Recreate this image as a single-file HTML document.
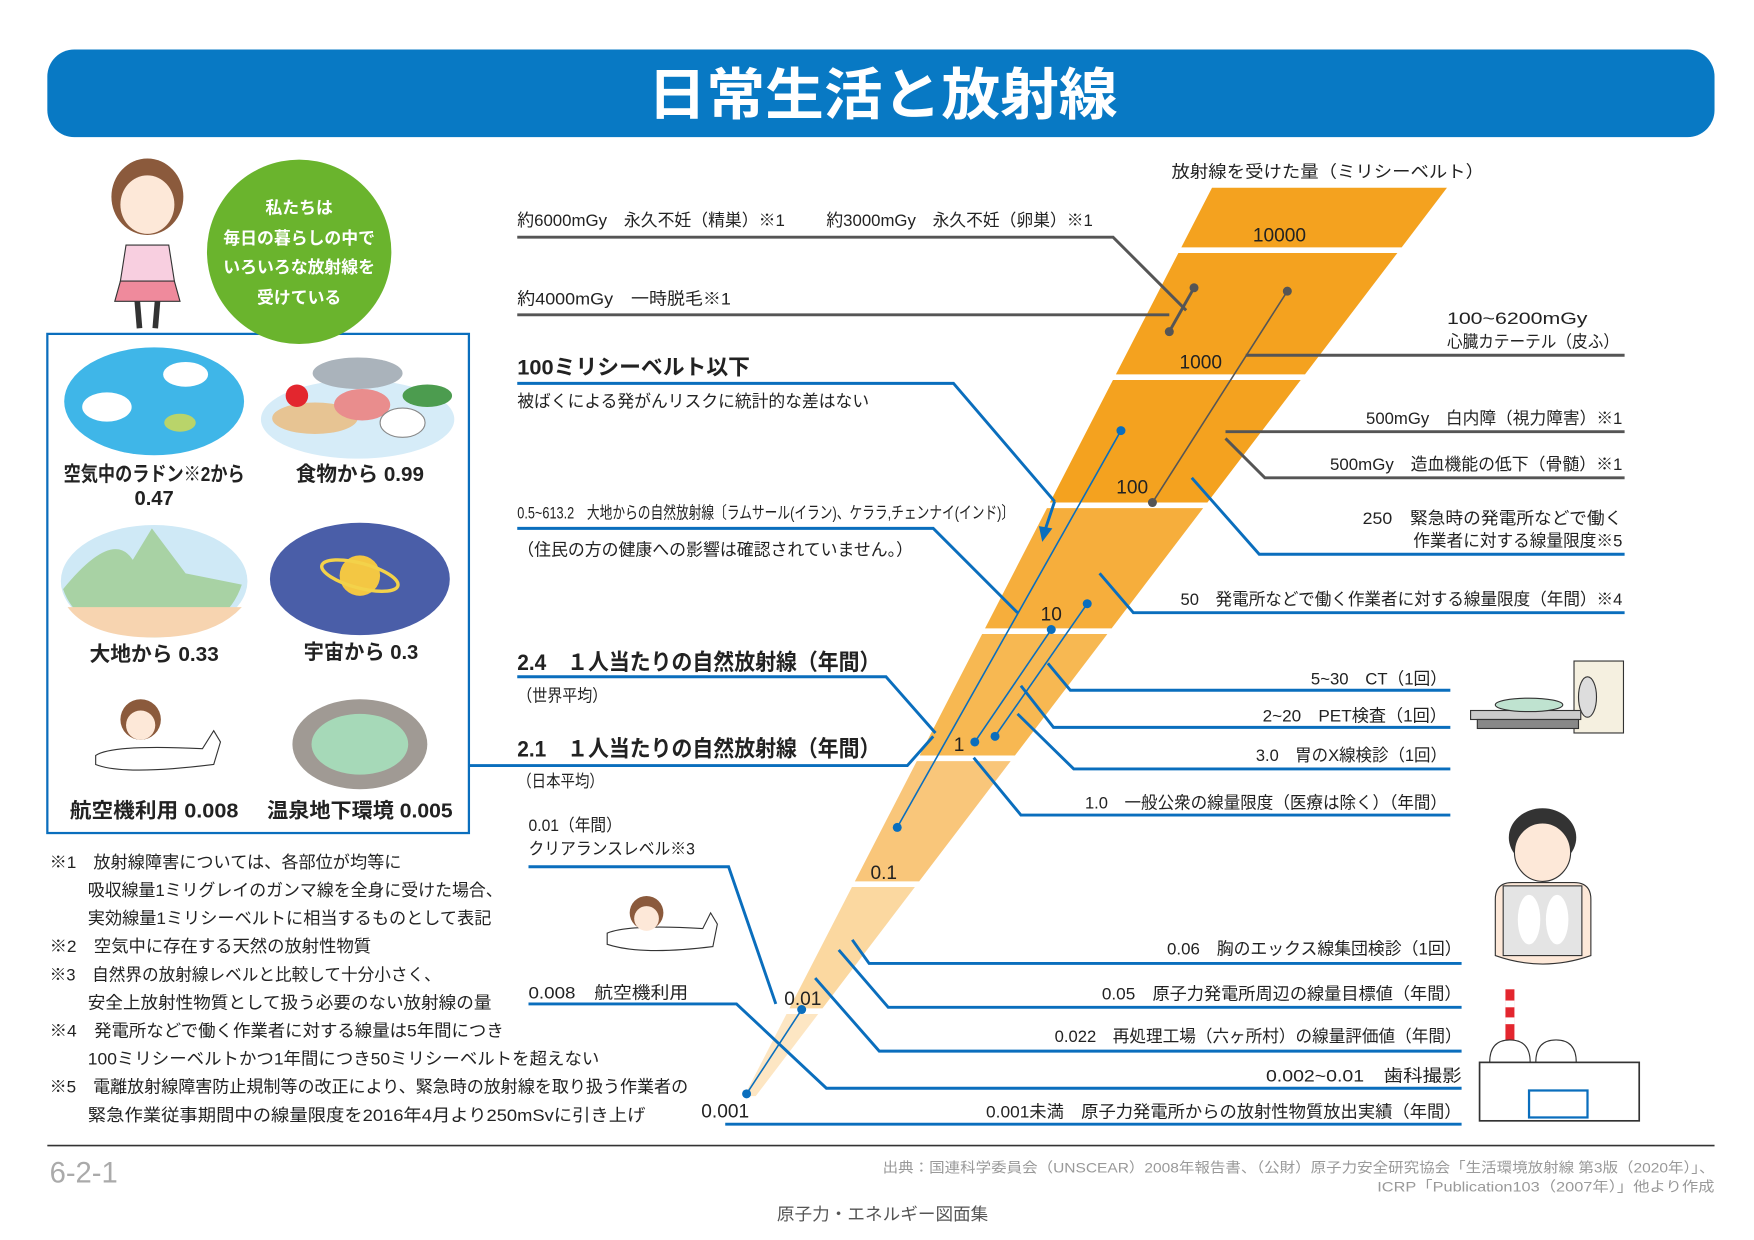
<!DOCTYPE html>
<html><head><meta charset="utf-8"><style>
html,body{margin:0;padding:0;background:#fff;}
svg{display:block;font-family:"Liberation Sans","Noto Sans CJK JP",sans-serif;}
.t{font-size:15px;fill:#222;}
.b{font-weight:bold;}
.g{stroke:#555;stroke-width:2.6;fill:none;}
.bl{stroke:#0a6ebd;stroke-width:2.6;fill:none;}
.thb{stroke:#0a6ebd;stroke-width:1.4;fill:none;}
.thg{stroke:#555;stroke-width:1.4;fill:none;}
</style></head><body>
<svg width="1754" height="1240" viewBox="0 0 1560 1103" xmlns="http://www.w3.org/2000/svg">
<!-- title -->
<rect x="42" y="44" width="1483" height="78" rx="24" fill="#0879c4"/>
<text x="785" y="102" text-anchor="middle" font-size="50" font-weight="bold" fill="#fff" textLength="418" lengthAdjust="spacingAndGlyphs">日常生活と放射線</text>

<!-- funnel -->
<polygon points="1078,167 1287,167 1246.7,220 1050.7,220" fill="#f4a21f"/>
<polygon points="1048.1,225 1242.9,225 1160.7,333 992.5,333" fill="#f4a21f"/>
<polygon points="989.9,338 1156.9,338 1073.9,447 933.8,447" fill="#f4a21f"/>
<polygon points="931.2,452 1070.1,452 988.7,559 876.1,559" fill="#f6ae3c"/>
<polygon points="873.5,564 984.9,564 902.7,672 817.9,672" fill="#f7b852"/>
<polygon points="815.4,677 898.9,677 817.5,784 760.3,784" fill="#f9c67a"/>
<polygon points="757.7,789 813.7,789 731.5,897 702.1,897" fill="#fbd8a0"/>
<polygon points="699.5,902 727.7,902 672.1,975 661.9,975" fill="#fde6c3"/>
<g font-size="17" fill="#222" text-anchor="middle">
<text x="1138" y="215">10000</text><text x="1068" y="328">1000</text><text x="1007" y="439">100</text>
<text x="935" y="552">10</text><text x="853" y="668">1</text><text x="786" y="782">0.1</text>
<text x="714" y="894">0.01</text><text x="645" y="994">0.001</text></g>

<text x="1042" y="158" class="t" font-size="17" textLength="278" lengthAdjust="spacingAndGlyphs">放射線を受けた量（ミリシーベルト）</text>

<!-- gray connectors -->
<polyline class="g" points="460,211 990,211 1055,276"/>
<line class="g" x1="1062" y1="256" x2="1040" y2="295"/>
<circle cx="1062" cy="256" r="4" fill="#555"/><circle cx="1040" cy="295" r="4" fill="#555"/>
<line class="g" x1="460" y1="280" x2="1040" y2="280"/>
<line class="g" x1="1108" y1="316" x2="1445" y2="316"/>
<line class="g" x1="1090" y1="384" x2="1445" y2="384"/>
<polyline class="g" points="1090,390 1125,425 1445,425"/>
<line class="thg" x1="1145" y1="259" x2="1025" y2="447"/>
<circle cx="1145" cy="259" r="4" fill="#555"/><circle cx="1025" cy="447" r="4" fill="#555"/>

<!-- blue connectors -->
<polyline class="bl" points="460,341 848,341 938,446"/>
<line class="bl" x1="938" y1="446" x2="930" y2="470"/>
<polygon points="924,468 936,470 927,482" fill="#0a6ebd"/>
<polyline class="bl" points="460,470 830,470 905,545"/>
<line class="thb" x1="997" y1="383" x2="798" y2="736"/>
<circle cx="997" cy="383" r="4" fill="#0a6ebd"/><circle cx="798" cy="736" r="4" fill="#0a6ebd"/>
<polyline class="bl" points="1060,425 1120,493 1445,493"/>
<polyline class="bl" points="978,510 1008,545 1445,545"/>
<line class="thb" x1="967" y1="537" x2="885" y2="655"/>
<line class="thb" x1="935" y1="560" x2="867" y2="660"/>
<circle cx="967" cy="537" r="4" fill="#0a6ebd"/><circle cx="885" cy="655" r="4" fill="#0a6ebd"/>
<circle cx="935" cy="560" r="4" fill="#0a6ebd"/><circle cx="867" cy="660" r="4" fill="#0a6ebd"/>
<polyline class="bl" points="460,602 788,602 832,652"/>
<polyline class="bl" points="417,681 807,681 830,655"/>
<polyline class="bl" points="932,590 952,614 1290,614"/>
<polyline class="bl" points="908,610 937,647 1290,647"/>
<polyline class="bl" points="905,635 955,684 1290,684"/>
<polyline class="bl" points="866,674 908,725 1290,725"/>
<polyline class="bl" points="758,836 773,857 1300,857"/>
<polyline class="bl" points="746,845 790,896 1300,896"/>
<polyline class="bl" points="725,870 782,935 1300,935"/>
<polyline class="bl" points="470,771 648,771 690,893"/>
<polyline class="bl" points="470,893 655,893 735,968 1300,968"/>
<line class="bl" x1="645" y1="1000" x2="1300" y2="1000"/>
<line class="thb" x1="713" y1="898" x2="664" y2="973"/>
<circle cx="713" cy="898" r="4" fill="#0a6ebd"/><circle cx="664" cy="973" r="4" fill="#0a6ebd"/>

<!-- labels -->
<g class="t">
<text x="460" y="201" textLength="238" lengthAdjust="spacingAndGlyphs">約6000mGy　永久不妊（精巣）※1</text>
<text x="735" y="201" textLength="237" lengthAdjust="spacingAndGlyphs">約3000mGy　永久不妊（卵巣）※1</text>
<text x="460" y="271" textLength="190" lengthAdjust="spacingAndGlyphs">約4000mGy　一時脱毛※1</text>
<text x="1287" y="288" textLength="125" lengthAdjust="spacingAndGlyphs">100~6200mGy</text>
<text x="1287" y="309" textLength="153" lengthAdjust="spacingAndGlyphs">心臓カテーテル（皮ふ）</text>
<text x="460" y="333" font-size="19" class="b" textLength="207" lengthAdjust="spacingAndGlyphs">100ミリシーベルト以下</text>
<text x="460" y="362" textLength="313" lengthAdjust="spacingAndGlyphs">被ばくによる発がんリスクに統計的な差はない</text>
<text x="1215" y="377" textLength="228" lengthAdjust="spacingAndGlyphs">500mGy　白内障（視力障害）※1</text>
<text x="1183" y="418" textLength="260" lengthAdjust="spacingAndGlyphs">500mGy　造血機能の低下（骨髄）※1</text>
<text x="460" y="461" textLength="442" lengthAdjust="spacingAndGlyphs">0.5~613.2　大地からの自然放射線〔ラムサール(イラン)、ケララ,チェンナイ(インド)〕</text>
<text x="460" y="494" textLength="352" lengthAdjust="spacingAndGlyphs">（住民の方の健康への影響は確認されていません。）</text>
<text x="1212" y="466" textLength="231" lengthAdjust="spacingAndGlyphs">250　緊急時の発電所などで働く</text>
<text x="1257" y="486" textLength="186" lengthAdjust="spacingAndGlyphs">作業者に対する線量限度※5</text>
<text x="1050" y="538" textLength="393" lengthAdjust="spacingAndGlyphs">50　発電所などで働く作業者に対する線量限度（年間）※4</text>
<text x="460" y="596" font-size="20" class="b" textLength="323" lengthAdjust="spacingAndGlyphs">2.4　１人当たりの自然放射線（年間）</text>
<text x="460" y="624" textLength="80" lengthAdjust="spacingAndGlyphs">（世界平均）</text>
<text x="1166" y="609" textLength="121" lengthAdjust="spacingAndGlyphs">5~30　CT（1回）</text>
<text x="1123" y="642" textLength="164" lengthAdjust="spacingAndGlyphs">2~20　PET検査（1回）</text>
<text x="1117" y="677" textLength="170" lengthAdjust="spacingAndGlyphs">3.0　胃のX線検診（1回）</text>
<text x="460" y="673" font-size="20" class="b" textLength="323" lengthAdjust="spacingAndGlyphs">2.1　１人当たりの自然放射線（年間）</text>
<text x="460" y="700" textLength="77" lengthAdjust="spacingAndGlyphs">（日本平均）</text>
<text x="965" y="719" textLength="322" lengthAdjust="spacingAndGlyphs">1.0　一般公衆の線量限度（医療は除く）（年間）</text>
<text x="470" y="739" textLength="83" lengthAdjust="spacingAndGlyphs">0.01（年間）</text>
<text x="470" y="760" textLength="148" lengthAdjust="spacingAndGlyphs">クリアランスレベル※3</text>
<text x="1038" y="849" textLength="262" lengthAdjust="spacingAndGlyphs">0.06　胸のエックス線集団検診（1回）</text>
<text x="470" y="888" textLength="142" lengthAdjust="spacingAndGlyphs">0.008　航空機利用</text>
<text x="980" y="889" textLength="320" lengthAdjust="spacingAndGlyphs">0.05　原子力発電所周辺の線量目標値（年間）</text>
<text x="938" y="927" textLength="362" lengthAdjust="spacingAndGlyphs">0.022　再処理工場（六ヶ所村）の線量評価値（年間）</text>
<text x="1126" y="962" textLength="174" lengthAdjust="spacingAndGlyphs">0.002~0.01　歯科撮影</text>
<text x="877" y="994" textLength="423" lengthAdjust="spacingAndGlyphs">0.001未満　原子力発電所からの放射性物質放出実績（年間）</text>
</g>

<!-- footnotes -->
<g class="t">
<text x="44" y="772" textLength="313" lengthAdjust="spacingAndGlyphs">※1　放射線障害については、各部位が均等に</text>
<text x="78" y="797" textLength="369" lengthAdjust="spacingAndGlyphs">吸収線量1ミリグレイのガンマ線を全身に受けた場合、</text>
<text x="78" y="822" textLength="359" lengthAdjust="spacingAndGlyphs">実効線量1ミリシーベルトに相当するものとして表記</text>
<text x="44" y="847" textLength="286" lengthAdjust="spacingAndGlyphs">※2　空気中に存在する天然の放射性物質</text>
<text x="44" y="872" textLength="348" lengthAdjust="spacingAndGlyphs">※3　自然界の放射線レベルと比較して十分小さく、</text>
<text x="78" y="897" textLength="359" lengthAdjust="spacingAndGlyphs">安全上放射性物質として扱う必要のない放射線の量</text>
<text x="44" y="922" textLength="404" lengthAdjust="spacingAndGlyphs">※4　発電所などで働く作業者に対する線量は5年間につき</text>
<text x="78" y="947" textLength="455" lengthAdjust="spacingAndGlyphs">100ミリシーベルトかつ1年間につき50ミリシーベルトを超えない</text>
<text x="44" y="972" textLength="568" lengthAdjust="spacingAndGlyphs">※5　電離放射線障害防止規制等の改正により、緊急時の放射線を取り扱う作業者の</text>
<text x="78" y="997" textLength="496" lengthAdjust="spacingAndGlyphs">緊急作業従事期間中の線量限度を2016年4月より250mSvに引き上げ</text>
</g>

<!-- left panel -->
<rect x="42" y="297" width="375" height="444" fill="none" stroke="#0a6ebd" stroke-width="2"/>
<circle cx="266" cy="224" r="82" fill="#6ab42d"/>
<g font-size="15" fill="#fff" text-anchor="middle" font-weight="bold">
<text x="266" y="190">私たちは</text><text x="266" y="217">毎日の暮らしの中で</text>
<text x="266" y="243">いろいろな放射線を</text><text x="266" y="270">受けている</text></g>
<!-- girl -->
<ellipse cx="131" cy="175" rx="32" ry="34" fill="#8b5a3c"/>
<ellipse cx="131" cy="182" rx="24" ry="26" fill="#fde8d8"/>
<path d="M112 218 L150 218 L155 250 L107 250 Z" fill="#f8cfe0" stroke="#333"/>
<path d="M107 250 L155 250 L160 268 L102 268 Z" fill="#ef8a9c" stroke="#333"/>
<line x1="122" y1="268" x2="124" y2="292" stroke="#333" stroke-width="5"/>
<line x1="140" y1="268" x2="138" y2="292" stroke="#333" stroke-width="5"/>
<!-- sky -->
<ellipse cx="137" cy="357" rx="80" ry="48" fill="#3fb6e8"/>
<ellipse cx="95" cy="362" rx="22" ry="13" fill="#fff"/><ellipse cx="165" cy="333" rx="20" ry="11" fill="#fff"/>
<ellipse cx="160" cy="376" rx="14" ry="8" fill="#b9d46a"/>
<!-- food -->
<ellipse cx="318" cy="373" rx="86" ry="35" fill="#d6ecf8"/>
<ellipse cx="318" cy="332" rx="40" ry="14" fill="#aab3bb"/>
<ellipse cx="280" cy="372" rx="38" ry="14" fill="#e7c493"/>
<ellipse cx="322" cy="360" rx="25" ry="14" fill="#e98d8d"/>
<ellipse cx="358" cy="376" rx="20" ry="13" fill="#fff" stroke="#888"/>
<ellipse cx="380" cy="352" rx="22" ry="10" fill="#4c9c4f"/>
<circle cx="264" cy="352" r="10" fill="#e3262e"/>
<!-- mountain -->
<ellipse cx="137" cy="517" rx="83" ry="50" fill="#cfe9f6"/>
<path d="M56 524 Q100 470 118 498 L135 470 L165 510 L215 520 Q200 565 137 567 Q70 565 56 524Z" fill="#a8d2a4"/>
<path d="M60 540 L215 540 Q190 567 137 567 Q80 567 60 540Z" fill="#f7d4b0"/>
<!-- space -->
<ellipse cx="320" cy="515" rx="80" ry="50" fill="#4a5ea8"/>
<circle cx="320" cy="512" r="18" fill="#f3c743"/>
<ellipse cx="320" cy="512" rx="35" ry="11" fill="none" stroke="#f3d24a" stroke-width="3" transform="rotate(15 320 512)"/>
<!-- plane -->
<path d="M85 672 Q100 662 180 666 L190 650 L196 660 L190 680 Q110 690 85 680Z" fill="#fff" stroke="#333"/>
<circle cx="125" cy="640" r="18" fill="#8b5a3c"/><circle cx="125" cy="645" r="13" fill="#fde8d8"/>
<!-- onsen -->
<ellipse cx="320" cy="662" rx="60" ry="40" fill="#a09a94"/>
<ellipse cx="320" cy="662" rx="43" ry="27" fill="#a6d9b8"/>
<g font-size="18" fill="#222" text-anchor="middle" font-weight="bold">
<text x="137" y="428" textLength="161" lengthAdjust="spacingAndGlyphs">空気中のラドン※2から</text>
<text x="137" y="449">0.47</text>
<text x="320" y="428" textLength="114" lengthAdjust="spacingAndGlyphs">食物から 0.99</text>
<text x="137" y="588" textLength="115" lengthAdjust="spacingAndGlyphs">大地から 0.33</text>
<text x="321" y="586" textLength="102" lengthAdjust="spacingAndGlyphs">宇宙から 0.3</text>
<text x="137" y="727" textLength="150" lengthAdjust="spacingAndGlyphs">航空機利用 0.008</text>
<text x="320" y="727" textLength="165" lengthAdjust="spacingAndGlyphs">温泉地下環境 0.005</text></g>

<!-- small plane near 0.008 -->
<path d="M540 830 Q560 822 625 826 L632 812 L638 822 L634 842 Q570 850 540 840Z" fill="#fff" stroke="#333"/>
<circle cx="575" cy="812" r="15" fill="#8b5a3c"/><circle cx="575" cy="817" r="11" fill="#fde8d8"/>

<!-- CT scanner -->
<rect x="1400" y="588" width="44" height="64" fill="#f5f0e0" stroke="#333"/>
<ellipse cx="1412" cy="620" rx="8" ry="18" fill="#ddd" stroke="#333"/>
<rect x="1308" y="632" width="98" height="8" fill="#ccc" stroke="#333"/>
<rect x="1314" y="640" width="90" height="8" fill="#888" stroke="#333"/>
<ellipse cx="1360" cy="627" rx="30" ry="6" fill="#bfe3d0" stroke="#333"/>
<!-- doctor with x-ray -->
<ellipse cx="1372" cy="745" rx="30" ry="26" fill="#333"/>
<ellipse cx="1372" cy="758" rx="25" ry="26" fill="#fde8d8" stroke="#333"/>
<path d="M1330 800 Q1330 785 1345 785 L1400 785 Q1415 785 1415 800 L1415 850 Q1372 865 1330 850Z" fill="#fde8d8" stroke="#333"/>
<rect x="1337" y="788" width="70" height="62" fill="#e4e4e4" stroke="#333"/>
<ellipse cx="1360" cy="818" rx="10" ry="22" fill="#fff"/><ellipse cx="1385" cy="818" rx="10" ry="22" fill="#fff"/>
<!-- power plant -->
<rect x="1339" y="880" width="8" height="50" fill="#e3262e"/>
<rect x="1339" y="890" width="8" height="6" fill="#fff"/><rect x="1339" y="905" width="8" height="6" fill="#fff"/>
<path d="M1325 945 Q1325 925 1343 925 Q1361 925 1361 945Z" fill="#fff" stroke="#333"/>
<path d="M1366 945 Q1366 925 1384 925 Q1402 925 1402 945Z" fill="#fff" stroke="#333"/>
<rect x="1316" y="945" width="142" height="52" fill="#fff" stroke="#333" stroke-width="1.5"/>
<rect x="1360" y="970" width="52" height="24" fill="#fff" stroke="#0a6ebd" stroke-width="2"/>

<!-- bottom -->
<line x1="42" y1="1019" x2="1525" y2="1019" stroke="#333" stroke-width="1.5"/>
<text x="44" y="1052" font-size="26" fill="#aaa">6-2-1</text>
<g font-size="12.5" fill="#999" text-anchor="end">
<text x="1525" y="1043" textLength="740" lengthAdjust="spacingAndGlyphs">出典：国連科学委員会（UNSCEAR）2008年報告書、（公財）原子力安全研究協会「生活環境放射線 第3版（2020年）」、</text>
<text x="1525" y="1060" textLength="300" lengthAdjust="spacingAndGlyphs">ICRP「Publication103（2007年）」他より作成</text></g>
<text x="785" y="1085" font-size="15" fill="#555" text-anchor="middle" textLength="188" lengthAdjust="spacingAndGlyphs">原子力・エネルギー図面集</text>
</svg>
</body></html>
